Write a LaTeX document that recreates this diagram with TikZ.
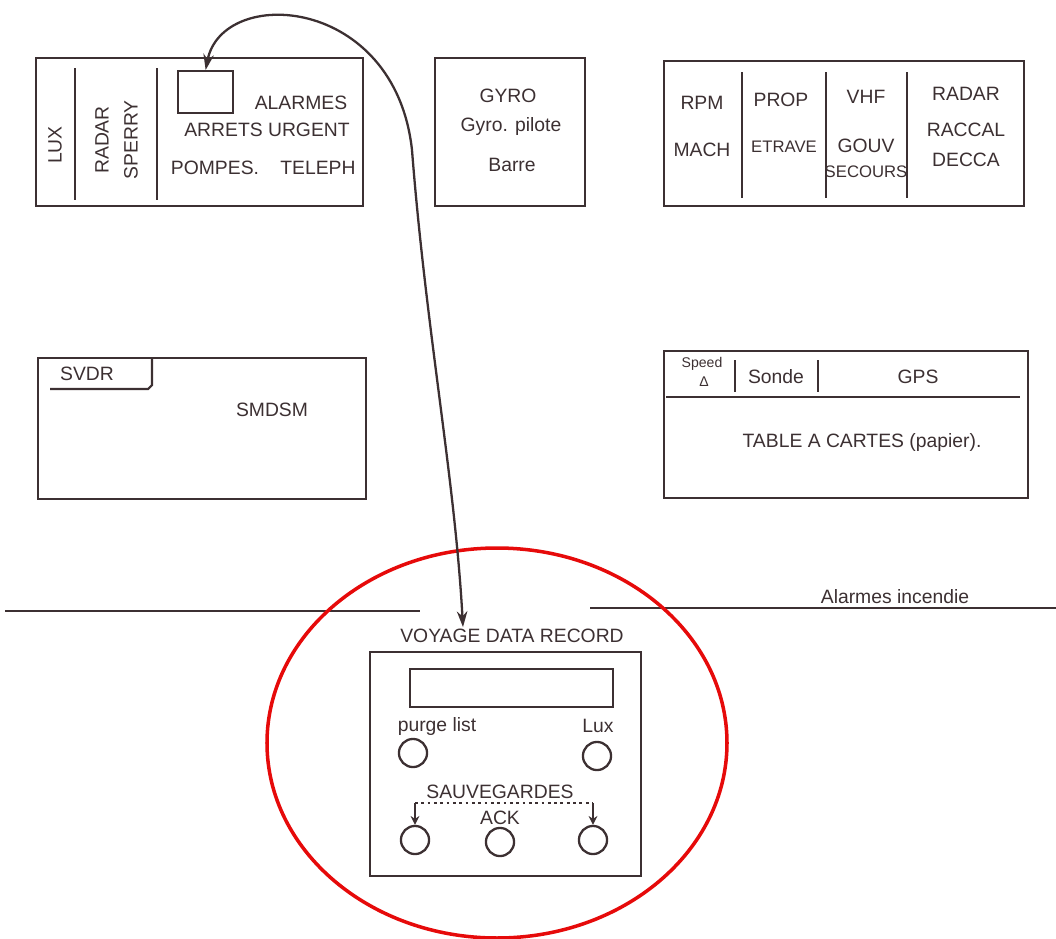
\documentclass[tikz,border=0pt]{standalone}
\usepackage{fontspec}
\setmainfont{Liberation Sans}
\usetikzlibrary{arrows.meta}
\definecolor{ink}{RGB}{60,48,50}
\definecolor{redink}{RGB}{230,10,10}
\tikzset{
  panel/.style={draw=ink,line width=1.3pt},
  sep/.style={draw=ink,line width=1.2pt},
  lbl/.style={text=ink,font=\fontsize{11}{13}\selectfont,inner sep=1pt},
  narrow/.style={text=ink,font=\fontsize{9.5}{11}\selectfont,inner sep=1pt},
  small/.style={text=ink,font=\fontsize{8}{9}\selectfont,inner sep=0.5pt},
  knob/.style={draw=ink,line width=1.3pt,circle,minimum size=16pt,inner sep=0pt},
  wire/.style={draw=ink,line width=1.3pt,{Stealth[length=9pt,width=6pt]}-{Stealth[length=9pt,width=6pt]}},
}
\begin{document}
\begin{tikzpicture}[x=0.02cm,y=-0.02cm]
\useasboundingbox (0,0) rectangle (1056,938);
% ---------- top-left panel
\node[panel,minimum width=327*0.02cm,minimum height=148*0.02cm,inner sep=0,anchor=north west] (p1) at (35,57) {};
\draw[sep] (75,68) -- (75,200);
\draw[sep] (157,68) -- (157,200);
\node[panel,minimum width=55*0.02cm,minimum height=42*0.02cm,inner sep=0,anchor=north west] (alarm) at (177,70) {};
\node[lbl,rotate=90] (lux) at (55,145) {LUX};
\node[lbl,rotate=90] (radar1) at (102,140) {RADAR};
\node[lbl,rotate=90] (sperry) at (131,140) {SPERRY};
\node[lbl] (alarmes) at (301,103) {ALARMES};
\node[lbl] (arrets) at (267,130) {ARRETS URGENT};
\node[lbl] (pompes) at (215,168) {POMPES.};
\node[lbl] (teleph) at (318,168) {TELEPH};
% ---------- gyro panel
\node[panel,minimum width=150*0.02cm,minimum height=148*0.02cm,inner sep=0,anchor=north west] (p2) at (434,57) {};
\node[lbl] (gyro) at (508,96) {GYRO};
\node[lbl] (gyrop) at (511,126) {Gyro. pilote};
\node[lbl] (barre) at (512,165) {Barre};
% ---------- top-right panel
\node[panel,minimum width=360*0.02cm,minimum height=145*0.02cm,inner sep=0,anchor=north west] (p3) at (663,60) {};
\draw[sep] (742,72) -- (742,198);
\draw[sep] (826,72) -- (826,198);
\draw[sep] (907,72) -- (907,198);
\node[lbl] (rpm) at (702,103) {RPM};
\node[lbl] (mach) at (702,150) {MACH};
\node[lbl] (prop) at (781,100) {PROP};
\node[narrow] (etrave) at (784,147) {ETRAVE};
\node[lbl] (vhf) at (866,97) {VHF};
\node[lbl] (gouv) at (866,146) {GOUV};
\node[narrow] (secours) at (866,172) {SECOURS};
\node[lbl] (radar2) at (966,94) {RADAR};
\node[lbl] (raccal) at (966,130) {RACCAL};
\node[lbl] (decca) at (966,160) {DECCA};
% ---------- SVDR / SMDSM panel
\node[panel,minimum width=328*0.02cm,minimum height=141*0.02cm,inner sep=0,anchor=north west] (p4) at (37,357) {};
\draw[sep] (50,389) -- (148,389) -- (152,385) -- (152,359);
\node[lbl] (svdr) at (87,374) {SVDR};
\node[lbl] (smdsm) at (272,410) {SMDSM};
% ---------- chart table panel
\node[panel,minimum width=364*0.02cm,minimum height=147*0.02cm,inner sep=0,anchor=north west] (p5) at (663,350) {};
\draw[sep] (666,397) -- (1020,397);
\draw[sep] (735,360) -- (735,392);
\draw[sep] (818,360) -- (818,392);
\node[small] (speed) at (702,364) {Speed};
\node[small] (delta) at (704,382) {Δ};
\node[lbl] (sonde) at (776,377) {Sonde};
\node[lbl] (gps) at (918,377) {GPS};
\node[lbl] (table) at (862,442) {TABLE A CARTES (papier).};
% ---------- deck line
\draw[sep] (5,611) -- (420,611);
\draw[sep] (590,608) -- (1056,608);
\node[lbl] (incendie) at (895,597) {Alarmes incendie};
% ---------- red ellipse
\draw[draw=redink,line width=2pt] (497,743) ellipse [x radius=230, y radius=195];
% ---------- VDR
\node[lbl] (vdr) at (512,636) {VOYAGE DATA RECORD};
\node[panel,minimum width=271*0.02cm,minimum height=224*0.02cm,inner sep=0,anchor=north west] (p6) at (369,651) {};
\node[panel,minimum width=203*0.02cm,minimum height=38*0.02cm,inner sep=0,anchor=north west] (disp) at (409,668) {};
\node[lbl] (purge) at (437,726) {purge list};
\node[lbl] (luxb) at (598,726) {Lux};
\node[knob] (k1) at (413,753) {};
\node[knob] (k2) at (597,756) {};
\node[lbl] (sauve) at (500,792) {SAUVEGARDES};
\node[lbl] (ack) at (500,818) {ACK};
\node[knob] (k3) at (415,840) {};
\node[knob] (k4) at (500,842) {};
\node[knob] (k5) at (593,840) {};
\coordinate (d1) at (415,803);
\coordinate (d2) at (593,803);
\draw[draw=ink,line width=1.6pt,dotted] (d1) -- (d2);
\draw[draw=ink,line width=1.2pt,-{Stealth[length=5pt,width=5pt]}] (d1) -- (k3.north);
\draw[draw=ink,line width=1.2pt,-{Stealth[length=5pt,width=5pt]}] (d2) -- (k5.north);
% ---------- connector
\draw[wire] (alarm.north) .. controls (222,-15) and (395,-5) .. (412,150)
   .. controls (426,330) and (455,480) .. (vdr.north -| 463,0);
\end{tikzpicture}
\end{document}
